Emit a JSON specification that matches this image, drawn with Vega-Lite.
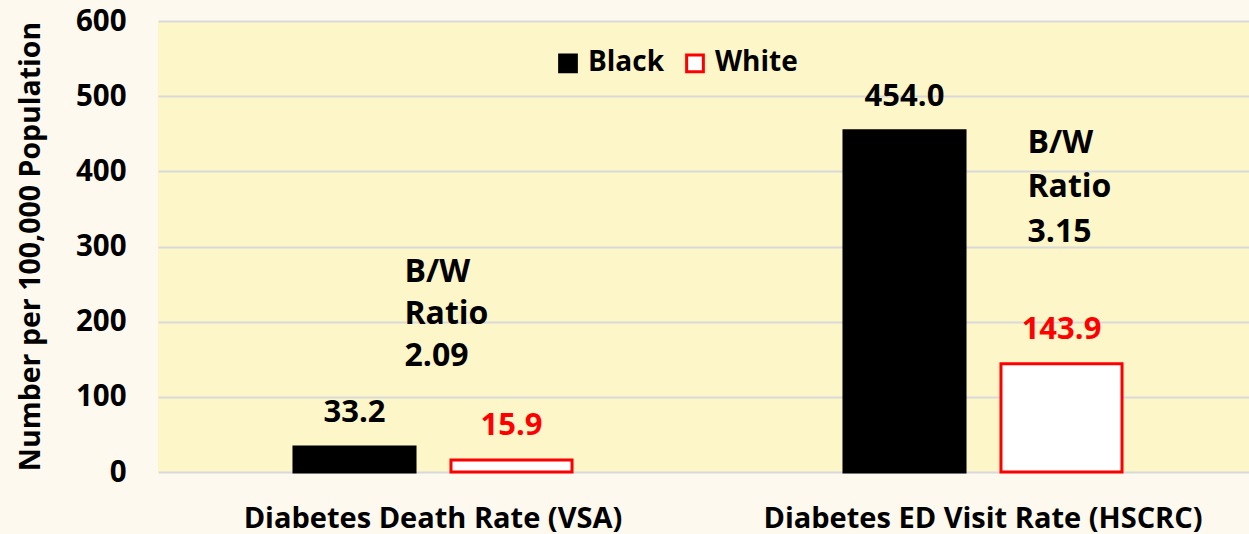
{
  "$schema": "https://vega.github.io/schema/vega-lite/v6.json",
  "width": 1100,
  "height": 451,
  "autosize": {"type": "none"},
  "padding": {"left": 158, "top": 21, "right": 0, "bottom": 62},
  "background": "#FEF9EE",
  "config": {
    "font": "Open Sans",
    "view": {"fill": "#FDF6C9", "stroke": null},
    "axis": {"labelFont": "Open Sans", "labelFontWeight": "bold", "titleFont": "Open Sans", "titleFontWeight": "bold", "labelColor": "#000000", "titleColor": "#000000"}
  },
  "data": {
    "values": [
      {"category": "Diabetes Death Rate (VSA)", "race": "Black", "value": 33.2},
      {"category": "Diabetes Death Rate (VSA)", "race": "White", "value": 15.9},
      {"category": "Diabetes ED Visit Rate (HSCRC)", "race": "Black", "value": 454.0},
      {"category": "Diabetes ED Visit Rate (HSCRC)", "race": "White", "value": 143.9}
    ]
  },
  "encoding": {
    "x": {
      "field": "category", "type": "nominal", "sort": null,
      "scale": {"paddingInner": 0, "paddingOuter": 0},
      "axis": {"title": null, "labelAngle": 0, "ticks": false, "domain": false, "labelFontSize": 29, "labelPadding": 32, "labelLimit": 0}
    },
    "xOffset": {
      "field": "race", "type": "nominal", "sort": ["Black", "White"],
      "scale": {"paddingInner": 0.229, "paddingOuter": 0.866}
    },
    "y": {
      "field": "value", "type": "quantitative",
      "scale": {"domain": [0, 600]},
      "axis": {
        "title": "Number per 100,000 Population", "titleFontSize": 28.5,
        "values": [0, 100, 200, 300, 400, 500, 600],
        "ticks": false, "domain": false, "labelFontSize": 29.5, "labelPadding": 32,
        "gridColor": "#D9D9D9", "gridWidth": 2, "gridOpacity": 1,
        "titleX": -128, "titleY": 225, "titleAngle": -90, "titleBaseline": "middle", "titleAlign": "center"
      }
    }
  },
  "layer": [
    {
      "mark": {"type": "bar", "strokeWidth": 3},
      "encoding": {
        "fill": {
          "field": "race", "type": "nominal",
          "scale": {"domain": ["Black", "White"], "range": ["#000000", "#FFFFFF"]},
          "legend": {
            "title": null, "orient": "none", "legendX": 396, "legendY": 28, "direction": "horizontal",
            "symbolType": "square", "symbolSize": 280, "symbolStrokeWidth": 3,
            "labelFont": "Open Sans", "labelFontWeight": "bold", "labelFontSize": 28, "labelColor": "#000000",
            "labelOffset": 6, "columnPadding": 15
          }
        },
        "stroke": {
          "field": "race", "type": "nominal",
          "scale": {"domain": ["Black", "White"], "range": ["#000000", "#FF0000"]},
          "legend": {
            "title": null, "orient": "none", "legendX": 396, "legendY": 28, "direction": "horizontal",
            "symbolType": "square", "symbolSize": 280, "symbolStrokeWidth": 3,
            "labelFont": "Open Sans", "labelFontWeight": "bold", "labelFontSize": 28, "labelColor": "#000000",
            "labelOffset": 6, "columnPadding": 15
          }
        }
      }
    },
    {
      "mark": {"type": "text", "font": "Open Sans", "fontWeight": "bold", "fontSize": 31, "baseline": "middle", "dy": -34},
      "encoding": {
        "text": {"field": "value", "type": "quantitative", "format": ".1f"},
        "color": {
          "condition": {"test": "datum.race === 'White'", "value": "#FF0000"},
          "value": "#000000"
        }
      }
    },
    {
      "transform": [{"filter": "datum.category === 'Diabetes Death Rate (VSA)' && datum.race === 'Black'"}],
      "mark": {"type": "text", "font": "Open Sans", "fontWeight": "bold", "fontSize": 32, "align": "left", "baseline": "middle", "lineHeight": 42, "dx": 50, "dy": -175, "color": "#000000"},
      "encoding": {
        "text": {"value": ["B/W", "Ratio", "2.09"]}
      }
    },
    {
      "transform": [{"filter": "datum.category === 'Diabetes ED Visit Rate (HSCRC)' && datum.race === 'Black'"}],
      "mark": {"type": "text", "font": "Open Sans", "fontWeight": "bold", "fontSize": 32, "align": "left", "baseline": "middle", "lineHeight": 44.5, "dx": 123, "dy": 12, "color": "#000000"},
      "encoding": {
        "text": {"value": ["B/W", "Ratio", "3.15"]}
      }
    }
  ]
}
